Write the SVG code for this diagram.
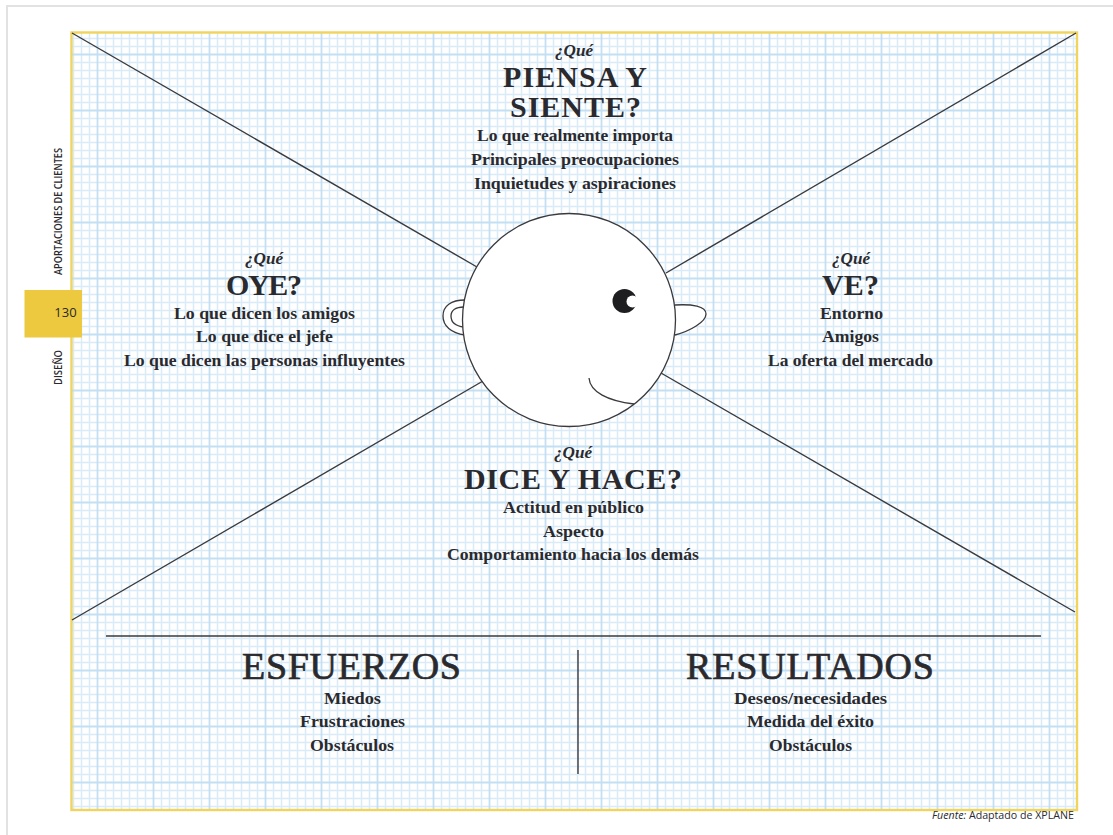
<svg xmlns="http://www.w3.org/2000/svg" width="1113" height="835" viewBox="0 0 1113 835">
  <style>
    text { fill: #2a2a2e; font-family: "Liberation Serif", "DejaVu Serif", serif; text-anchor: middle; }
    .q { font-size: 17px; font-style: italic; font-weight: 700; }
    .h { font-size: 30px; font-weight: 700; }
    .b { font-size: 17px; font-weight: 700; }
    .big { font-size: 38px; font-weight: 400; stroke: #2a2a2e; stroke-width: .7px; }
    .side { font-family: "Open Sans", "Liberation Sans", sans-serif; font-size: 10px; font-weight: 600; }
    .line { stroke: #3a3a3e; stroke-width: 1.4; fill: none; }
    .art { stroke: #3a3a3e; stroke-width: 1.3; }
  </style>
  <defs>
    <pattern id="grid" patternUnits="userSpaceOnUse" width="56" height="56" patternTransform="translate(41 54)">
      <g stroke="#d9ebf8" stroke-width="1.5" fill="none">
        <path d="M8.5 0V56M16.5 0V56M24.5 0V56M32.5 0V56M40.5 0V56M48.5 0V56"/>
        <path d="M0 8.5H56M0 16.5H56M0 24.5H56M0 32.5H56M0 40.5H56M0 48.5H56"/>
      </g>
      <g stroke="#c3dff3" stroke-width="1.8" fill="none">
        <path d="M.5 0V56M56.5 0V56M0 .5H56M0 56.5H56"/>
      </g>
    </pattern>
  </defs>

  <rect width="1113" height="835" fill="#ffffff"/>
  <path d="M7 835V6H1113" fill="none" stroke="#e2e2e2" stroke-width="2"/>

  <!-- grid sheet -->
  <rect id="sheet" x="71.5" y="32.5" width="1005.5" height="777.5" fill="url(#grid)" stroke="#f0d45c" stroke-width="2.4"/>

  <!-- page margin -->
  <g id="margin">
    <rect x="24.5" y="290" width="57.5" height="47.5" fill="#edc93f"/>
    <text x="65.5" y="316.5" style="font-family:'Open Sans','Liberation Sans',sans-serif;font-size:13px">130</text>
    <text class="side" transform="translate(62 211.5) rotate(-90)" textLength="127" lengthAdjust="spacingAndGlyphs">APORTACIONES DE CLIENTES</text>
    <text class="side" transform="translate(62 367.5) rotate(-90)" textLength="35" lengthAdjust="spacingAndGlyphs">DISEÑO</text>
    <text x="1003" y="818.5" style="font-family:'Open Sans','Liberation Sans',sans-serif;font-size:10.5px" textLength="142" lengthAdjust="spacingAndGlyphs"><tspan font-style="italic">Fuente:</tspan> Adaptado de XPLANE</text>
  </g>

  <!-- dividing lines -->
  <g id="connectors" class="line">
    <path d="M72 33L477 267"/>
    <path d="M1076 33L666 273"/>
    <path d="M72 620L483 381"/>
    <path d="M1075 612L661 373"/>
    <path d="M106 636H1041"/>
    <path d="M578 650V774"/>
  </g>

  <!-- head -->
  <g id="head">
    <path class="art" d="M465 300C451 300 443 306 443 316C443 326 451 333 465 335" fill="#ffffff"/>
    <path class="art" d="M464 307C455 307 451 311 451 316C451 322 455 326 464 327" fill="#ffffff"/>
    <path class="art" d="M675 305C692 304 706 306 706 314C706 322 690 331 675 335" fill="#ffffff"/>
    <circle class="art" cx="569" cy="320" r="106.5" fill="#ffffff"/>
    <circle cx="624.5" cy="301" r="12" fill="#1e1e20"/>
    <circle cx="632.5" cy="301.5" r="6" fill="#ffffff"/>
    <path class="art" d="M589 378C590 392 608 401 634 404" fill="none"/>
  </g>

  <g id="piensa">
    <text class="q" x="574" y="56" textLength="38" lengthAdjust="spacingAndGlyphs">¿Qué</text>
    <text class="h" x="575" y="87" textLength="144" lengthAdjust="spacing">PIENSA Y</text>
    <text class="h" x="575.5" y="117" textLength="131" lengthAdjust="spacing">SIENTE?</text>
    <text class="b" x="575" y="141" textLength="196" lengthAdjust="spacingAndGlyphs">Lo que realmente importa</text>
    <text class="b" x="575" y="165" textLength="208" lengthAdjust="spacingAndGlyphs">Principales preocupaciones</text>
    <text class="b" x="575" y="189" textLength="202" lengthAdjust="spacingAndGlyphs">Inquietudes y aspiraciones</text>
  </g>

  <g id="oye">
    <text class="q" x="264" y="264" textLength="38" lengthAdjust="spacingAndGlyphs">¿Qué</text>
    <text class="h" x="264" y="295" textLength="76" lengthAdjust="spacing">OYE?</text>
    <text class="b" x="264.5" y="319" textLength="181" lengthAdjust="spacingAndGlyphs">Lo que dicen los amigos</text>
    <text class="b" x="264.5" y="342" textLength="137" lengthAdjust="spacingAndGlyphs">Lo que dice el jefe</text>
    <text class="b" x="264.5" y="366" textLength="281" lengthAdjust="spacingAndGlyphs">Lo que dicen las personas influyentes</text>
  </g>

  <g id="ve">
    <text class="q" x="851" y="264" textLength="38" lengthAdjust="spacingAndGlyphs">¿Qué</text>
    <text class="h" x="850.5" y="295" textLength="57" lengthAdjust="spacing">VE?</text>
    <text class="b" x="851.5" y="319" textLength="63" lengthAdjust="spacingAndGlyphs">Entorno</text>
    <text class="b" x="850.5" y="342" textLength="57" lengthAdjust="spacingAndGlyphs">Amigos</text>
    <text class="b" x="850.5" y="366" textLength="165" lengthAdjust="spacingAndGlyphs">La oferta del mercado</text>
  </g>

  <g id="dice">
    <text class="q" x="573" y="458" textLength="38" lengthAdjust="spacingAndGlyphs">¿Qué</text>
    <text class="h" x="573" y="489" textLength="218" lengthAdjust="spacing">DICE Y HACE?</text>
    <text class="b" x="573.5" y="513" textLength="141" lengthAdjust="spacingAndGlyphs">Actitud en público</text>
    <text class="b" x="573.5" y="537" textLength="61" lengthAdjust="spacingAndGlyphs">Aspecto</text>
    <text class="b" x="573" y="560" textLength="252" lengthAdjust="spacingAndGlyphs">Comportamiento hacia los demás</text>
  </g>

  <g id="esfuerzos">
    <text class="big" x="351.5" y="679" textLength="219" lengthAdjust="spacing">ESFUERZOS</text>
    <text class="b" x="352.5" y="704" textLength="57" lengthAdjust="spacingAndGlyphs">Miedos</text>
    <text class="b" x="352.5" y="727" textLength="105" lengthAdjust="spacingAndGlyphs">Frustraciones</text>
    <text class="b" x="352" y="751" textLength="84" lengthAdjust="spacingAndGlyphs">Obstáculos</text>
  </g>

  <g id="resultados">
    <text class="big" x="810" y="679" textLength="248" lengthAdjust="spacing">RESULTADOS</text>
    <text class="b" x="810.5" y="704" textLength="153" lengthAdjust="spacingAndGlyphs">Deseos/necesidades</text>
    <text class="b" x="810.5" y="727" textLength="127" lengthAdjust="spacingAndGlyphs">Medida del éxito</text>
    <text class="b" x="810.5" y="751" textLength="83" lengthAdjust="spacingAndGlyphs">Obstáculos</text>
  </g>
</svg>
